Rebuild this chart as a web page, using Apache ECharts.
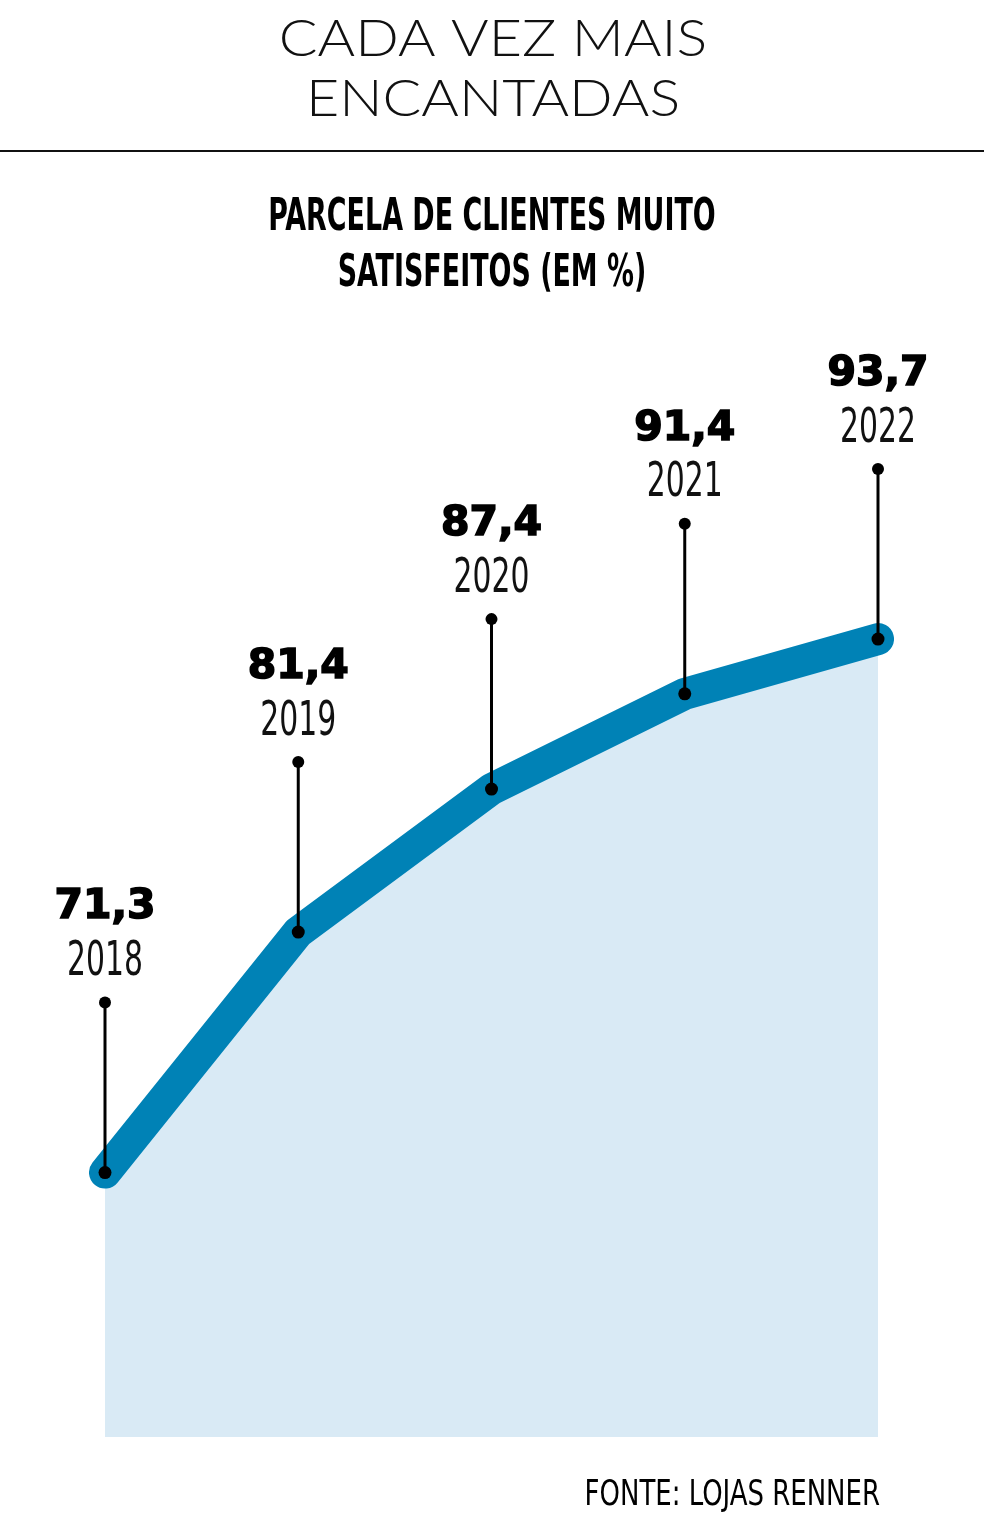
<!DOCTYPE html>
<html>
<head>
<meta charset="utf-8">
<script src="https://cdn.jsdelivr.net/npm/echarts@6/dist/echarts.min.js"></script>
<style>
html,body{margin:0;padding:0;background:#fff;}
#chart{width:984px;height:1532px;}
</style>
</head>
<body>
<div id="chart"></div>
<script>
const titleLines = ['CADA VEZ MAIS', 'ENCANTADAS'];
const subtitleLines = ['PARCELA DE CLIENTES MUITO', 'SATISFEITOS (EM %)'];
const sourceText = 'FONTE: LOJAS RENNER';
const years = ['2018', '2019', '2020', '2021', '2022'];
const values = [71.3, 81.4, 87.4, 91.4, 93.7];
const valueLabels = ['71,3', '81,4', '87,4', '91,4', '93,7'];

const chart = echarts.init(document.getElementById('chart'), null, {renderer: 'canvas'});

const STEM = 170;
const condensed = '"Liberation Sans Narrow", "DejaVu Sans Condensed", sans-serif';

function renderAnnot(params, api) {
  const i = api.value(0);
  const p = api.coord([i, api.value(1)]);
  const top = p[1] - STEM;
  return {
    type: 'group',
    children: [
      {type: 'line', shape: {x1: p[0], y1: p[1], x2: p[0], y2: top}, style: {stroke: '#000', lineWidth: 3}},
      {type: 'circle', shape: {cx: p[0], cy: top, r: 6}, style: {fill: '#000'}},
      {type: 'circle', shape: {cx: p[0], cy: p[1], r: 6.5}, style: {fill: '#000'}},
      {type: 'text', x: p[0], y: top - 40, scaleX: 0.69, scaleY: 1,
        style: {text: years[i], textAlign: 'center', textVerticalAlign: 'middle', fill: '#111',
          font: '400 48px ' + condensed}},
      {type: 'text', x: p[0], y: top - 95,
        style: {text: valueLabels[i], textAlign: 'center', textVerticalAlign: 'middle', fill: '#000',
          stroke: '#000', lineWidth: 1.6,
          font: 'bold 41px "DejaVu Sans", sans-serif'}}
    ]
  };
}

const option = {
  backgroundColor: '#fff',
  animation: false,
  grid: {left: 105, right: 106, top: 489, bottom: 95},
  xAxis: {type: 'category', data: years, boundaryGap: false, show: false},
  yAxis: {type: 'value', min: 60.2, max: 100, show: false},
  graphic: [
    {type: 'text', x: 493, y: 40, scaleX: 1.125,
      style: {text: titleLines[0], textAlign: 'center', textVerticalAlign: 'middle', fill: '#111',
        font: '300 51px Lato, "Open Sans", sans-serif'}},
    {type: 'text', x: 493, y: 100, scaleX: 1.125,
      style: {text: titleLines[1], textAlign: 'center', textVerticalAlign: 'middle', fill: '#111',
        font: '300 51px Lato, "Open Sans", sans-serif'}},
    {type: 'rect', shape: {x: 0, y: 150, width: 984, height: 2}, style: {fill: '#111'}},
    {type: 'text', x: 492, y: 219, scaleX: 0.68,
      style: {text: subtitleLines[0], textAlign: 'center', textVerticalAlign: 'middle', fill: '#000',
        font: 'bold 44px ' + condensed}},
    {type: 'text', x: 492, y: 275, scaleX: 0.68,
      style: {text: subtitleLines[1], textAlign: 'center', textVerticalAlign: 'middle', fill: '#000',
        font: 'bold 44px ' + condensed}},
    {type: 'text', x: 880, y: 1496, scaleX: 0.825,
      style: {text: sourceText, textAlign: 'right', textVerticalAlign: 'middle', fill: '#000',
        font: '400 35px ' + condensed}}
  ],
  series: [
    {
      type: 'line',
      data: values,
      symbol: 'none',
      lineStyle: {color: '#0082B6', width: 32, cap: 'round', join: 'round'},
      areaStyle: {color: '#D9EAF5', origin: 'start', opacity: 1},
      z: 2
    },
    {
      type: 'custom',
      data: values.map((v, i) => [i, v]),
      renderItem: renderAnnot,
      z: 5
    }
  ]
};
chart.setOption(option);
</script>
</body>
</html>
